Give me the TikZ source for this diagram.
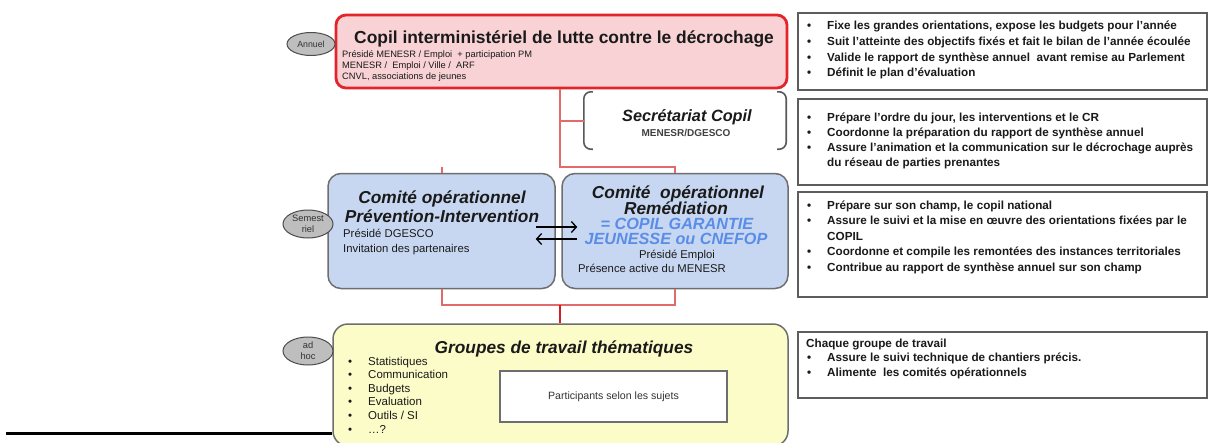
\documentclass[tikz,border=0pt]{standalone}
\usepackage{fontspec}
\setmainfont{Liberation Sans}
\usetikzlibrary{calc,arrows.meta,shapes.geometric}
\definecolor{copilfill}{HTML}{F8D2D4}
\definecolor{copilred}{HTML}{E3242B}
\definecolor{linkred}{HTML}{E26A6A}
\definecolor{darkred}{HTML}{D41E24}
\definecolor{comfill}{HTML}{C7D7F1}
\definecolor{grpfill}{HTML}{FCFCC9}
\definecolor{boxgray}{HTML}{6E6E6E}
\definecolor{ellfill}{HTML}{BEBEBE}
\definecolor{bluetxt}{HTML}{5A8DE8}
\definecolor{txtdark}{HTML}{1A1A1A}
\newcommand{\fsz}[1]{\fontsize{#1}{#1}\selectfont}
\tikzset{
  panel/.style={draw=boxgray, line width=1.5pt, inner sep=0pt, rounded corners=13pt},
  infobox/.style={draw=boxgray!85!black, line width=2pt, fill=white, inner sep=0pt},
  freq/.style={ellipse, draw=black!70, line width=1pt, fill=ellfill, inner sep=0pt, align=center, font=\fsz{8.8}, text=black!80},
  linkr/.style={draw=linkred, line width=2pt},
  linkdark/.style={draw=darkred, line width=2.6pt},
  bracketline/.style={draw=black!65, line width=1.6pt, rounded corners=7pt},
  txt/.style={inner sep=0pt, text=txtdark},
  info/.style={txt, anchor=base west, font=\bfseries\fsz{11.7}},
  bigtitle/.style={txt, anchor=base, font=\bfseries\itshape\fsz{17.3}},
  bluet/.style={inner sep=0pt, anchor=base, text=bluetxt, font=\bfseries\itshape\fsz{16.2}},
  small/.style={txt, anchor=base west, font=\fsz{9.3}},
  mid/.style={txt, font=\fsz{11.3}},
  listitem/.style={txt, anchor=base west, font=\fsz{11.5}},
  twoway/.style={draw=black, line width=1.3pt, -{Straight Barb[length=5pt,width=11pt]}}
}
\begin{document}
\begin{tikzpicture}[x=1pt,y=-1pt]
\useasboundingbox (0,0) rectangle (1208,442);
\fill[white] (0,0) rectangle (1208,442);

% ---- main boxes
\node[panel, draw=copilred, line width=2.8pt, fill=copilfill, rounded corners=10pt,
      minimum width=451pt, minimum height=73pt] (copil) at (561.5,51.5) {};
\node[panel, fill=comfill, minimum width=227pt, minimum height=115pt] (prevC) at (441.5,231) {};
\node[panel, fill=comfill, minimum width=226pt, minimum height=115pt] (remC) at (675,231) {};
\node[panel, fill=grpfill, rounded corners=15pt, minimum width=455pt, minimum height=122pt] (grp) at (560.5,385) {};

% ---- secretariat (brackets)
\node[inner sep=0pt, minimum width=202pt, minimum height=57pt] (sec) at (685,120.5) {};
\draw[bracketline] ([xshift=9pt]sec.north west) -- (sec.north west) -- (sec.south west) -- ([xshift=9pt]sec.south west);
\draw[bracketline] ([xshift=-9pt]sec.north east) -- (sec.north east) -- (sec.south east) -- ([xshift=-9pt]sec.south east);
\node[bigtitle, font=\bfseries\itshape\fsz{16.3}] (sect) at (687,121) {Secrétariat Copil};
\node[txt, anchor=base, font=\bfseries\fsz{10}, text=black!75] (secs) at (686,136) {MENESR/DGESCO};

% ---- connectors
\coordinate (j) at (560,167);
\coordinate (k) at (560,305);
\draw[linkr] (copil.south -| j) -- (j) -| (remC.north);
\draw[linkr] (copil.south -| j) |- (sec.west);
\draw[linkr] (prevC.north) -- ++(0,-6);
\draw[linkr] (prevC.south) |- (k) -| (remC.south);
\draw[linkdark] (k) -- (grp.north -| k);

% ---- copil text
\node[txt, anchor=base, font=\bfseries\fsz{17.4}] (copt) at (564,43) {Copil interministériel de lutte contre le décrochage};
\node[small] (cop1) at (342,57) {Présidé MENESR / Emploi~ + participation PM};
\node[small] (cop2) at (342,68) {MENESR /~ Emploi / Ville /~ ARF};
\node[small] (cop3) at (342,79) {CNVL, associations de jeunes};

% ---- comite prevention text
\node[bigtitle] (pv1) at (442,203) {Comité opérationnel};
\node[bigtitle] (pv2) at (442,222) {Prévention-Intervention};
\node[mid, anchor=base west] (pv3) at (343,237) {Présidé DGESCO};
\node[mid, anchor=base west] (pv4) at (343,252) {Invitation des partenaires};

% ---- comite remediation text
\node[bigtitle] (rm1) at (678,198) {Comité~ opérationnel};
\node[bigtitle] (rm2) at (676,214) {Remédiation};
\node[bluet] (rm3) at (677,229) {= COPIL GARANTIE};
\node[bluet] (rm4) at (676,244) {JEUNESSE ou CNEFOP};
\node[mid, anchor=base] (rm5) at (677,258) {Présidé Emploi};
\node[mid, anchor=base] (rm6) at (652,272) {Présence active du MENESR};

% ---- exchange arrows
\draw[twoway] ([shift={(-20,-4)}]prevC.east) -- ([shift={(16,-4)}]remC.west);
\draw[twoway] ([shift={(16,8)}]remC.west) -- ([shift={(-20,8)}]prevC.east);

% ---- groupes text
\node[bigtitle] (gt) at (564,353) {Groupes de travail thématiques};
\node[listitem] (g1b) at (348,365) {•};
\node[listitem] (g1) at (368,365) {Statistiques};
\node[listitem] (g2b) at (348,378.5) {•};
\node[listitem] (g2) at (368,378.5) {Communication};
\node[listitem] (g3b) at (348,392) {•};
\node[listitem] (g3) at (368,392) {Budgets};
\node[listitem] (g4b) at (348,405.5) {•};
\node[listitem] (g4) at (368,405.5) {Evaluation};
\node[listitem] (g5b) at (348,419) {•};
\node[listitem] (g5) at (368,419) {Outils / SI};
\node[listitem] (g6b) at (348,433) {•};
\node[listitem] (g6) at (368,433) {…?};
\node[draw=boxgray, line width=1.5pt, fill=white, inner sep=0pt, minimum width=227pt, minimum height=51pt] (part) at (613.5,396.5) {};
\node[txt, font=\fsz{10.6}, text=black!80] (partt) at (part.center) {Participants selon les sujets};

% ---- black rule
\coordinate (rulestart) at (6,433);
\draw[black, line width=3pt] (rulestart) -- (rulestart -| grp.west);

% ---- frequency ellipses
\node[freq, minimum width=48pt, minimum height=23pt] (annuel) at (311,44) {Annuel};
\node[freq, minimum width=50pt, minimum height=28pt, font={\fontsize{9.3}{10.5}\selectfont}] (semest) at (308,224) {Semest\\riel};
\node[freq, minimum width=50pt, minimum height=28pt, font={\fontsize{9.3}{11}\selectfont}] (adhoc) at (308,351) {ad\\hoc};

% ---- right info boxes
\node[infobox, anchor=north west, minimum width=409pt, minimum height=77pt] (r1) at (797,12) {};
\node[infobox, anchor=north west, minimum width=409pt, minimum height=86pt] (r2) at (797,98) {};
\node[infobox, anchor=north west, minimum width=409pt, minimum height=105pt] (r3) at (797,191) {};
\node[infobox, anchor=north west, minimum width=409pt, minimum height=66pt] (r4) at (797,331) {};

\node[info] (r1b1) at (807,29) {•};
\node[info] (r1t1) at (827,29) {Fixe les grandes orientations, expose les budgets pour l’année};
\node[info] (r1b2) at (807,45) {•};
\node[info] (r1t2) at (827,45) {Suit l’atteinte des objectifs fixés et fait le bilan de l’année écoulée};
\node[info] (r1b3) at (807,61) {•};
\node[info] (r1t3) at (827,61) {Valide le rapport de synthèse annuel~ avant remise au Parlement};
\node[info] (r1b4) at (807,76) {•};
\node[info] (r1t4) at (827,76) {Définit le plan d’évaluation};

\node[info] (r2b1) at (807,121) {•};
\node[info] (r2t1) at (827,121) {Prépare l’ordre du jour, les interventions et le CR};
\node[info] (r2b2) at (807,136) {•};
\node[info] (r2t2) at (827,136) {Coordonne la préparation du rapport de synthèse annuel};
\node[info] (r2b3) at (807,151) {•};
\node[info] (r2t3) at (827,151) {Assure l’animation et la communication sur le décrochage auprès};
\node[info] (r2t4) at (827,166) {du réseau de parties prenantes};

\node[info] (r3b1) at (807,209) {•};
\node[info] (r3t1) at (827,209) {Prépare sur son champ, le copil national};
\node[info] (r3b2) at (807,224.5) {•};
\node[info] (r3t2) at (827,224.5) {Assure le suivi et la mise en œuvre des orientations fixées par le};
\node[info] (r3t3) at (827,240) {COPIL};
\node[info] (r3b4) at (807,255.5) {•};
\node[info] (r3t4) at (827,255.5) {Coordonne et compile les remontées des instances territoriales};
\node[info] (r3b5) at (807,271) {•};
\node[info] (r3t5) at (827,271) {Contribue au rapport de synthèse annuel sur son champ};

\node[info] (r4t0) at (806,347) {Chaque groupe de travail};
\node[info] (r4b1) at (807,361.5) {•};
\node[info] (r4t1) at (827,361.5) {Assure le suivi technique de chantiers précis.};
\node[info] (r4b2) at (807,376) {•};
\node[info] (r4t2) at (827,376) {Alimente~ les comités opérationnels};
\end{tikzpicture}
\end{document}
